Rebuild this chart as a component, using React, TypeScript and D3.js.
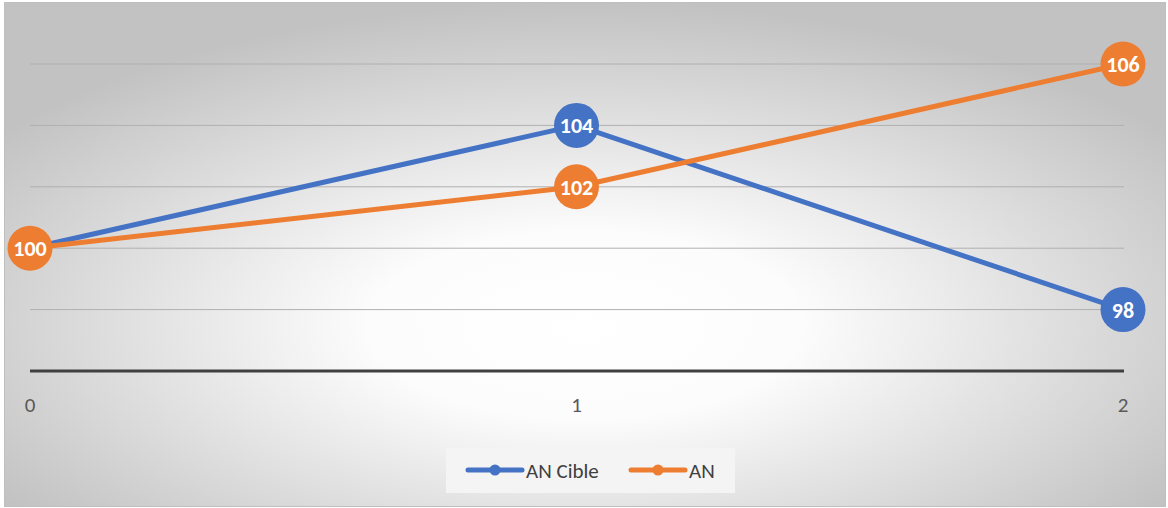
import React from "react";
import * as d3 from "d3";

const categories = [0, 1, 2];
const seriesNames = ["AN Cible", "AN"];
const anCible = [100, 104, 98];
const an = [100, 102, 106];
const yGrid = [98, 100, 102, 104, 106];
const colors = ["#4472C4", "#ED7D31"];

const W = 1168;
const H = 508;

export default function App() {
  const x = d3.scaleLinear().domain([0, 2]).range([30, 1123]);
  const y = d3.scaleLinear().domain([96, 106]).range([371, 64]);
  const line = d3
    .line<number>()
    .x((_, i) => x(categories[i]))
    .y((d) => y(d));
  const series = [anCible, an];
  const font = "Calibri, Carlito, Lato, 'Open Sans', sans-serif";
  return (
    <svg width={W} height={H} style={{ position: "absolute", left: 0, top: 0 }}>
      <defs>
        <radialGradient id="bg" cx="50%" cy="62%" r="62%" fx="50%" fy="65%">
          <stop offset="0%" stopColor="#ffffff" />
          <stop offset="30%" stopColor="#fcfcfc" />
          <stop offset="100%" stopColor="#c2c2c2" />
        </radialGradient>
      </defs>
      <rect x={0} y={0} width={W} height={H} fill="#ffffff" />
      <rect x={4.5} y={2.5} width={W - 7} height={H - 4} fill="url(#bg)" stroke="#bfbfbf" strokeWidth={1} />
      {yGrid.map((v) => (
        <line key={v} x1={30} x2={1124} y1={y(v)} y2={y(v)} stroke="#b0b0b0" strokeWidth={1} />
      ))}
      <line x1={30} x2={1124} y1={y(96)} y2={y(96)} stroke="#404040" strokeWidth={3} />
      {categories.map((c) => (
        <text key={c} x={x(c)} y={412} textAnchor="middle" fontSize={21} fill="#595959" fontFamily={font}>
          {c}
        </text>
      ))}
      {series.map((s, si) => (
        <path key={si} d={line(s) || ""} fill="none" stroke={colors[si]} strokeWidth={5} strokeLinejoin="round" />
      ))}
      {series.map((s, si) =>
        s.map((v, i) => {
          if (si === 0 && i === 0) return null;
          return (
            <g key={`${si}-${i}`}>
              <circle cx={x(categories[i])} cy={y(v)} r={22.5} fill={colors[si]} />
              <text
                x={x(categories[i])}
                y={y(v)}
                dy="0.36em"
                textAnchor="middle"
                fontSize={22}
                fontWeight="bold"
                fill="#ffffff"
                fontFamily={font}
              >
                {v}
              </text>
            </g>
          );
        })
      )}
      <rect x={446} y={448} width={289} height={45} fill="#f4f4f4" />
      {seriesNames.map((n, i) => {
        const lx = i === 0 ? 468 : 631;
        return (
          <g key={n}>
            <line x1={lx} x2={lx + 54} y1={470} y2={470} stroke={colors[i]} strokeWidth={5} strokeLinecap="round" />
            <circle cx={lx + 27} cy={470} r={5.5} fill={colors[i]} />
            <text x={lx + 58} y={470} dy="0.36em" fontSize={21} fill="#404040" fontFamily={font}>
              {n}
            </text>
          </g>
        );
      })}
    </svg>
  );
}
